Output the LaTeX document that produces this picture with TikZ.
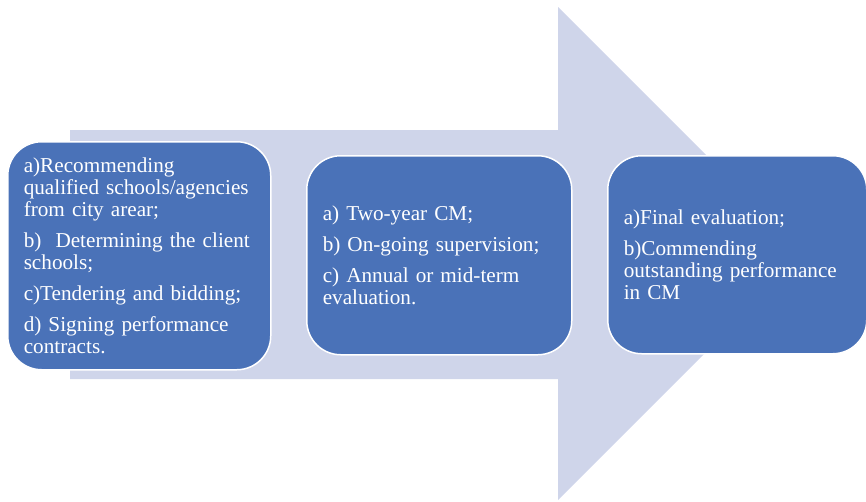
\documentclass[tikz,border=0pt]{standalone}
\usepackage{fontspec}
\setmainfont{Liberation Serif}
\definecolor{arrowfill}{HTML}{CFD5EA}
\definecolor{stagefill}{HTML}{4A72B8}
\begin{document}
\begin{tikzpicture}[x=1pt,y=-1pt,
  stagebox/.style={draw=white, line width=1.5pt, fill=stagefill,
    rounded corners=34pt, text=white, align=left,
    font=\fontsize{21.2}{22}\selectfont,
    inner xsep=16pt, inner ysep=0pt, anchor=north west},
]
\useasboundingbox (0,0) rectangle (866,501);
% background block arrow
\fill[arrowfill] (70,130) -- (558,130) -- (558,7) -- (804.5,253.5)
  -- (558,500) -- (558,379) -- (70,379) -- cycle;
% stage boxes
\node[stagebox, minimum width=263pt, minimum height=228pt, text width=231pt]
  (s1) at (7,141) {a)Recommending\\ qualified schools/agencies\\ from city arear;\\[9pt]
  b)~~Determining the client\\ schools;\\[9pt]
  c)Tendering and bidding;\\[9pt]
  d) Signing performance\\ contracts.};
\node[stagebox, minimum width=265pt, minimum height=199pt, text width=233pt]
  (s2) at (306,155) {a) Two-year CM;\\[9pt]
  b) On-going supervision;\\[9pt]
  c) Annual or mid-term\\ evaluation.};
\node[stagebox, minimum width=259pt, minimum height=198pt, text width=227pt]
  (s3) at (607,155) {a)Final evaluation;\\[9pt]
  b)Commending\\ outstanding performance\\ in CM};
\end{tikzpicture}
\end{document}
